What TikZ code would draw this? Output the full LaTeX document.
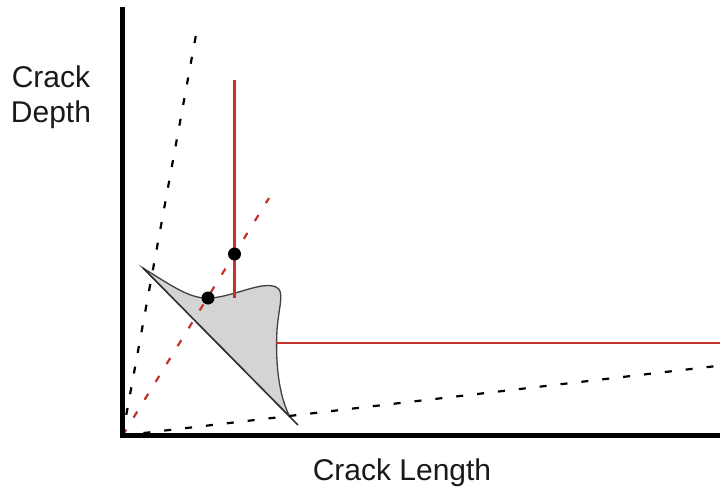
\documentclass[tikz,border=0pt]{standalone}
\usepackage{fontspec}
\setmainfont{Liberation Sans}
\begin{document}
\begin{tikzpicture}[x=1pt,y=-1pt,
  axis/.style={line width=4.5pt},
  redline/.style={draw=crackred,line width=2.3pt},
  dashblack/.style={draw=black,line width=2.2pt,dash pattern=on 7pt off 14pt},
  dashred/.style={draw=crackred,line width=2.2pt,dash pattern=on 7pt off 14pt},
  dot/.style={circle,fill=black,inner sep=0pt,minimum size=13pt},
  lbl/.style={font=\fontsize{30}{35}\selectfont,text=black!90,align=center}]
\definecolor{crackred}{RGB}{196,50,46}
\definecolor{shapegray}{RGB}{212,212,212}
\useasboundingbox (0,0) rectangle (725,495);
% coordinates
\coordinate (O) at (122.5,435.5);
\coordinate (Ytop) at (122.5,7);
\coordinate (Xend) at (720,435.5);
\coordinate (S1) at (198,24);
\coordinate (S2) at (725,365);
\coordinate (R1) at (269,198);
\coordinate (A) at (143,268);
\coordinate (B) at (290,417);
\coordinate (Bend) at (298,425);
\coordinate (V1) at (234.5,80);
\coordinate (V2) at (234.5,298);
\coordinate (H1) at (276,343);
\coordinate (H2) at (720,343);
% shape
\filldraw[fill=shapegray,draw=black!75,line width=1.3pt]
  (A) .. controls (175,288) and (192,300) .. (212,298)
      .. controls (238,295) and (262,281) .. (276,287)
      .. controls (285,291) and (279,305) .. (277,330)
      .. controls (275,372) and (281,400) .. (B) -- cycle;
\draw[black!80,line width=1.5pt] (A) -- (Bend);
% lines
\draw[dashblack] (O) -- (S1);
\draw[dashblack] (O) -- (S2);
\draw[dashred] (O) -- (R1);
\draw[redline] (V1) -- (V2);
\draw[redline] (H1) -- (H2);
% dots
\node[dot] (d1) at (208,298) {};
\node[dot] (d2) at (234.5,254) {};
% axes
\draw[axis] (Ytop) -- (122.5,437.75);
\draw[axis] (120.25,435.5) -- (Xend);
% labels
\node[lbl] (ylab) at (51,97) {Crack\\Depth};
\node[lbl] (xlab) at (402,473) {Crack Length};
\end{tikzpicture}
\end{document}
